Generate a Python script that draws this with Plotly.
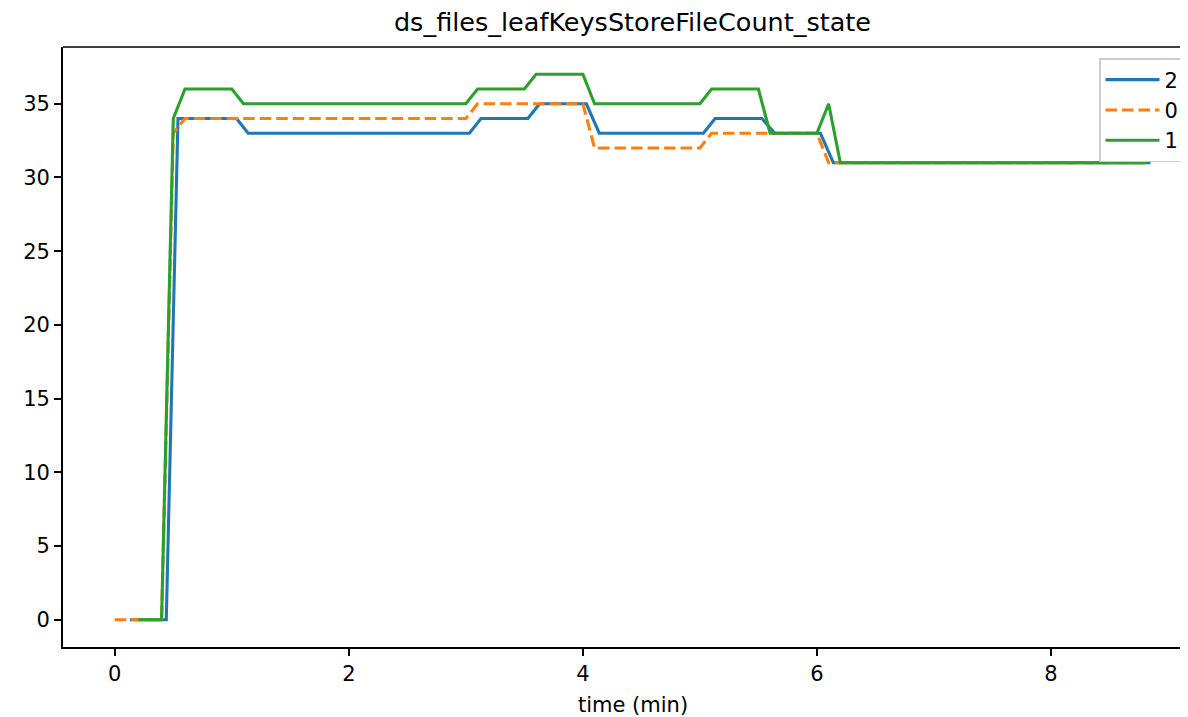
import plotly.graph_objects as go

# series "2" (blue)
t2 = [0.13, 0.44, 0.54, 1.04, 1.14, 3.03, 3.13, 3.53, 3.63, 4.03, 4.14, 5.03, 5.13, 5.53, 5.64, 6.03, 6.14, 8.85]
v2 = [0, 0, 34, 34, 33, 33, 34, 34, 35, 35, 33, 33, 34, 34, 33, 33, 31, 31]
# series "0" (orange)
t0 = [0.0, 0.4, 0.5, 0.6, 3.0, 3.1, 4.0, 4.1, 5.0, 5.1, 6.0, 6.1, 8.8]
v0 = [0, 0, 33, 34, 34, 35, 35, 32, 32, 33, 33, 31, 31]
# series "1" (green)
t1 = [0.2, 0.4, 0.5, 0.6, 1.0, 1.1, 3.0, 3.1, 3.5, 3.6, 4.0, 4.1, 5.0, 5.1, 5.5, 5.6, 6.0, 6.1, 6.2, 8.82]
v1 = [0, 0, 34, 36, 36, 35, 35, 36, 36, 37, 37, 35, 35, 36, 36, 33, 33, 35, 31, 31]

x_ticks = [0, 2, 4, 6, 8]
y_ticks = [0, 5, 10, 15, 20, 25, 30, 35]

title = "ds_files_leafKeysStoreFileCount_state"
x_label = "time (min)"

FONT = "DejaVu Sans"
OFF = 8  # page body margin
W, H = 1188 - OFF, 717 - OFF
# target screen geometry of the plot area: left 63, top 47, bottom 647, right 1188
L, T = 63 - OFF, 47 - OFF
R = 0
B = H - (647 - OFF)
PW = W - L - R
PH = H - T - B

def px_x(sx):
    return (sx - OFF - L) / PW

def px_y(sy):
    return (H - B - (sy - OFF)) / PH

fig = go.Figure()
fig.add_trace(go.Scatter(x=t2, y=v2, mode="lines", name="2", legendgroup="a",
                         line=dict(color="#1f77b4", width=3.1)))
fig.add_trace(go.Scatter(x=t0, y=v0, mode="lines", name="0", legendgroup="b",
                         line=dict(color="#ff7f0e", width=3.1, dash="11.5px,5px")))
fig.add_trace(go.Scatter(x=t1, y=v1, mode="lines", name="1", legendgroup="c",
                         line=dict(color="#2ca02c", width=3.1)))

axis_common = dict(showgrid=False, zeroline=False, showline=True, linecolor="black", linewidth=1.7,
                   ticks="outside", ticklen=7, tickwidth=1.7, tickcolor="black",
                   tickfont=dict(family=FONT, size=21, color="black"))

fig.update_layout(
    width=W, height=H,
    margin=dict(l=L, r=R, t=T, b=B, pad=0, autoexpand=False),
    paper_bgcolor="white", plot_bgcolor="white",
    font=dict(family=FONT, color="black"),
    title=dict(text=title, x=(632.5 - OFF) / W, xref="container", xanchor="center",
               y=1 - (22 - OFF) / H, yref="container", yanchor="middle",
               font=dict(family=FONT, size=25.5, color="black")),
    xaxis=dict(range=[-0.4425, (1188 - 115) / 117.0], tickvals=x_ticks,
               ticktext=[str(v) for v in x_ticks], **axis_common),
    yaxis=dict(range=[-1.85, 38.85], tickvals=y_ticks,
               ticktext=[str(v) for v in y_ticks], **axis_common),
    legend=dict(x=px_x(1099), y=px_y(58), xanchor="left", yanchor="top",
                bgcolor="rgba(255,255,255,0.8)", bordercolor="#cccccc", borderwidth=1.5,
                font=dict(family=FONT, size=21, color="black"), tracegroupgap=0,
                itemwidth=54),
    showlegend=True,
)

fig.add_shape(type="line", xref="paper", yref="paper", x0=0, x1=1, y0=1, y1=1,
              line=dict(color="black", width=1.7))
fig.add_annotation(text=x_label, xref="paper", yref="paper",
                   x=px_x(632.5), y=px_y(705),
                   xanchor="center", yanchor="middle", showarrow=False,
                   font=dict(family=FONT, size=21, color="black"))

fig.write_html("out.html")
